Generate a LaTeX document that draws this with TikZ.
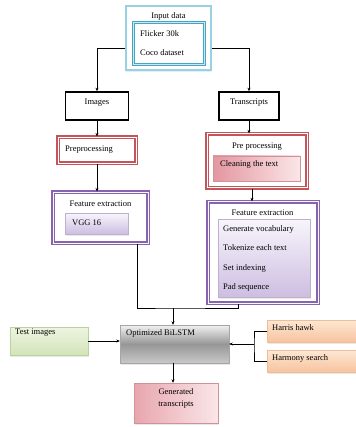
\documentclass[tikz,border=0pt]{standalone}
\usepackage{fontspec}
\setmainfont{Liberation Serif}
\usetikzlibrary{shadows,arrows.meta}
\definecolor{cyanL}{RGB}{150,210,228}
\definecolor{teal1}{RGB}{70,165,195}
\definecolor{redB}{RGB}{196,85,90}
\definecolor{purB}{RGB}{135,100,175}
\definecolor{lavT}{RGB}{248,245,252}
\definecolor{lavB}{RGB}{205,190,225}
\definecolor{pinkT}{RGB}{228,150,160}
\definecolor{pinkB}{RGB}{250,230,232}
\definecolor{greenT}{RGB}{238,245,225}
\definecolor{greenB}{RGB}{210,228,185}
\definecolor{greenD}{RGB}{185,210,160}
\definecolor{orT}{RGB}{253,232,212}
\definecolor{orB}{RGB}{247,195,158}
\definecolor{orD}{RGB}{240,190,150}
\definecolor{grayT}{RGB}{242,242,242}
\definecolor{grayM}{RGB}{150,150,150}
\definecolor{grayB}{RGB}{200,200,200}
\tikzset{
  txt/.style={inner sep=0pt, font=\fontsize{8.5}{10}\selectfont},
  ltxt/.style={txt, anchor=west},
  arr/.style={-{Stealth[length=3.5pt,width=3pt]}, line width=0.5pt},
  ln/.style={line width=0.5pt},
  shd/.style={drop shadow={opacity=0.18, shadow xshift=1pt, shadow yshift=-1.5pt}},
  blackbox/.style={draw=black, line width=1.6pt, inner sep=0pt},
  redbox/.style={draw=redB, fill=white, line width=1.1pt, double=white, double distance=0.9pt, inner sep=0pt},
  purbox/.style={draw=purB, fill=white, line width=1.1pt, double=lavT, double distance=0.9pt, inner sep=0pt},
  lavbox/.style={draw=lavB!80!gray, line width=0.3pt, top color=lavT, bottom color=lavB, inner sep=0pt, shd},
  pinkbox/.style={draw=pinkT!80!gray, line width=0.3pt, left color=pinkT, right color=pinkB, inner sep=0pt, shd},
}
\begin{document}
\begin{tikzpicture}[x=1pt,y=-1pt]
\useasboundingbox (0,0) rectangle (355,427);
\fill[white] (0,0) rectangle (355,427);

% Input data
\node[draw=cyanL, line width=1.5pt, fill=white, minimum width=85pt, minimum height=64pt, inner sep=0pt,
      drop shadow={opacity=0.3, shadow xshift=0pt, shadow yshift=-2pt, fill=cyanL}] (inp) at (168.5,38) {};
\node[draw=teal1, double=cyanL!50, line width=1pt, double distance=1pt, fill=white, minimum width=71pt, minimum height=42pt, inner sep=0pt] (inpin) at (168.5,44) {};
\node[txt] (inpt) at (168.5,16) {Input data};
\node[ltxt] (fl) at (140,34) {Flicker 30k};
\node[ltxt] (co) at (140,53) {Coco dataset};

% Images / Transcripts
\node[blackbox, minimum width=63pt, minimum height=28pt] (img) at (97,106) {};
\node[txt] (imgt) at (97,103) {Images};
\node[blackbox, minimum width=60pt, minimum height=28pt] (trn) at (249,106) {};
\node[txt] (trnt) at (249,103) {Transcripts};

% Preprocessing left
\node[redbox, minimum width=78pt, minimum height=26pt] (prep) at (97,150) {};
\node[ltxt] (prept) at (65,150) {Preprocessing};

% Pre processing right
\node[redbox, line width=1.3pt, double distance=1pt, minimum width=100pt, minimum height=54pt] (pp) at (257,161) {};
\node[txt] (ppt) at (257,147) {Pre processing};
\node[pinkbox, minimum width=87pt, minimum height=25pt] (cl) at (256.5,168.5) {};
\node[ltxt] (clt) at (220,164) {Cleaning the text};

% Feature extraction left
\node[purbox, minimum width=95pt, minimum height=51pt] (fe1) at (100.5,217.5) {};
\node[txt] (fe1t) at (100.5,204) {Feature extraction};
\node[lavbox, minimum width=63pt, minimum height=21pt] (vgg) at (96.5,223.5) {};
\node[ltxt] (vggt) at (72,223) {VGG 16};

% Feature extraction right
\node[purbox, line width=1.3pt, double distance=1pt, minimum width=110pt, minimum height=101pt] (fe2) at (263,252.5) {};
\node[txt] (fe2t) at (262.5,213) {Feature extraction};
\node[lavbox, minimum width=92pt, minimum height=78pt] (fe2in) at (264,258) {};
\node[ltxt] (g1) at (223,229) {Generate vocabulary};
\node[ltxt] (g2) at (223,248) {Tokenize each text};
\node[ltxt] (g3) at (223,268) {Set indexing};
\node[ltxt] (g4) at (223,287) {Pad sequence};

% BiLSTM
\node[draw=gray!70, line width=0.4pt, top color=grayT, bottom color=grayB, middle color=grayM, minimum width=109pt, minimum height=38pt, inner sep=0pt, shd] (bil) at (174.5,344) {};
\node[ltxt, anchor=north west] (bilt) at (126,329) {Optimized BiLSTM};

% Test images
\node[draw=greenD, line width=0.4pt, top color=greenT, bottom color=greenB, minimum width=78pt, minimum height=28pt, inner sep=0pt, shd] (test) at (49,341) {};
\node[ltxt, anchor=north west] (testt) at (15,329) {Test images};

% Harris hawk / Harmony search
\node[draw=orD, line width=0.4pt, top color=orT, bottom color=orB, minimum width=92pt, minimum height=22pt, inner sep=0pt, shd] (hh) at (313,331) {};
\node[ltxt, anchor=north west] (hht) at (272,324) {Harris hawk};
\node[draw=orD, line width=0.4pt, top color=orT, bottom color=orB, minimum width=92pt, minimum height=22pt, inner sep=0pt, shd] (hs) at (313,361) {};
\node[ltxt, anchor=north west] (hst) at (272,354) {Harmony search};

% Generated transcripts
\node[draw=pinkT!80!gray, line width=0.4pt, left color=pinkT!85, right color=pinkB, minimum width=84pt, minimum height=40pt, inner sep=0pt, shd] (gen) at (176,403) {};
\node[txt, align=center] (gent) at (176,398.5) {Generated\\[2pt]transcripts};

% connectors
\draw[arr] (inp.west |- 0,48) -| (img.north);
\draw[arr] (inp.east |- 0,48) -| (trn.north);
\draw[arr] (img.south) -- (prep.north);
\draw[arr] (trn.south) -- (trn.south |- pp.north);
\draw[arr] (prep.south) -- (prep.south |- fe1.north);
\draw[arr] ([xshift=-5pt]pp.south) -- ([xshift=-5pt]pp.south |- fe2.north);
\coordinate (j) at (173,308);
\draw[ln] (fe1.south -| 137,0) |- (j) -| (fe2.south -| 238,0);
\draw[arr] (j) -- (j |- bil.north);
\draw[arr] (test.east) -- (test.east -| bil.west);
\coordinate (br) at (254,344);
\draw[ln] (hh.west) -| (br) |- (hs.west);
\draw[arr] (br) -- (br -| bil.east);
\draw[arr] (bil.south -| 173,0) -- (gen.north -| 173,0);
\end{tikzpicture}
\end{document}
